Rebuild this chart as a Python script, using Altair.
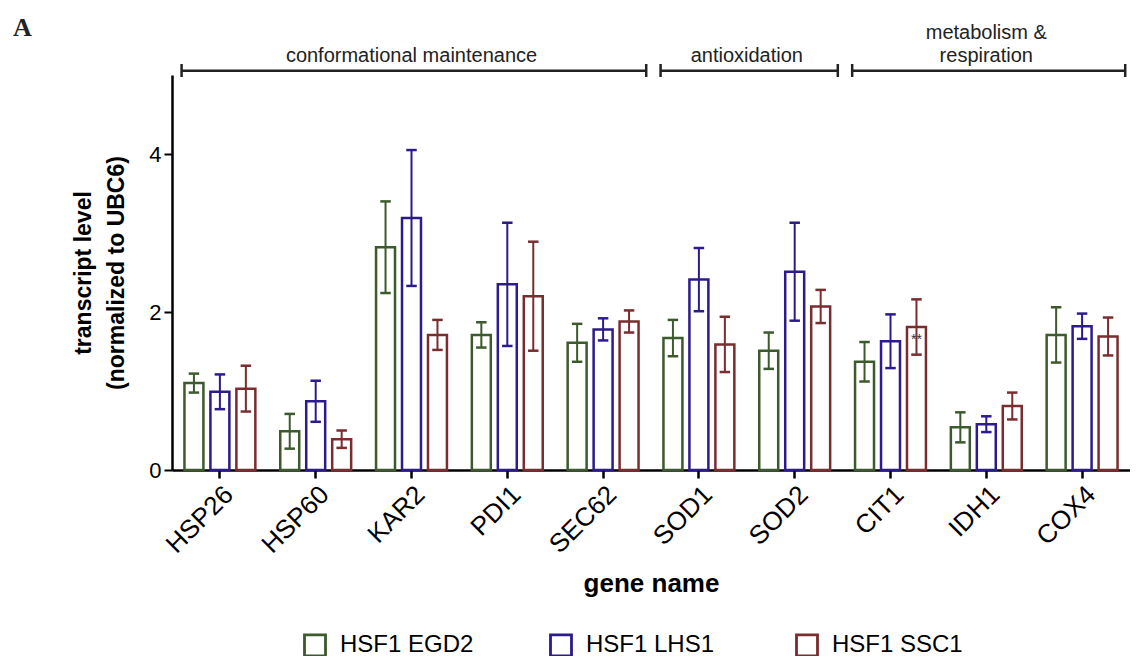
import altair as alt
import pandas as pd

genes = ["HSP26", "HSP60", "KAR2", "PDI1", "SEC62", "SOD1", "SOD2", "CIT1", "IDH1", "COX4"]
series = ["HSF1 EGD2", "HSF1 LHS1", "HSF1 SSC1"]
colors = ["#3c5a2c", "#2c1b8c", "#7a2c2e"]

egd2_mean = [1.10, 0.49, 2.82, 1.71, 1.61, 1.67, 1.51, 1.37, 0.54, 1.71]
egd2_err = [0.12, 0.22, 0.58, 0.16, 0.24, 0.23, 0.23, 0.25, 0.19, 0.35]
lhs1_mean = [0.99, 0.87, 3.19, 2.35, 1.78, 2.41, 2.51, 1.63, 0.58, 1.82]
lhs1_err = [0.22, 0.26, 0.86, 0.78, 0.14, 0.40, 0.62, 0.34, 0.10, 0.16]
ssc1_mean = [1.03, 0.39, 1.71, 2.20, 1.88, 1.59, 2.07, 1.81, 0.81, 1.69]
ssc1_err = [0.29, 0.11, 0.19, 0.69, 0.14, 0.35, 0.21, 0.35, 0.17, 0.24]

group_labels = ["conformational maintenance", "antioxidation", "metabolism &\nrespiration"]
group_first = ["HSP26", "SOD1", "CIT1"]
group_last = ["SEC62", "SOD2", "COX4"]

star_gene = ["CIT1"]
star_series = ["HSF1 SSC1"]
star_text = ["**"]

FONT = "Liberation Sans"

rows = []
for s, means, errs in zip(series, [egd2_mean, lhs1_mean, ssc1_mean], [egd2_err, lhs1_err, ssc1_err]):
    for g, m, e in zip(genes, means, errs):
        rows.append({"gene": g, "series": s, "mean": m, "lo": m - e, "hi": m + e})
df = pd.DataFrame(rows)

star_df = pd.DataFrame({"gene": star_gene, "series": star_series, "text": star_text})
star_df = star_df.merge(df[["gene", "series", "mean"]], on=["gene", "series"])

ann = pd.DataFrame({
    "label": group_labels,
    "start": [genes.index(g) + 0.1 for g in group_first],
    "end": [genes.index(g) + 0.95 for g in group_last],
})
ann["mid"] = [(genes.index(a) + genes.index(b) + 1) / 2 for a, b in zip(group_first, group_last)]
ann["top"] = [lbl.split("\n")[0] if "\n" in lbl else "" for lbl in group_labels]
ann["bottom"] = [lbl.split("\n")[-1] for lbl in group_labels]
caps = pd.concat([
    pd.DataFrame({"pos": ann["start"]}),
    pd.DataFrame({"pos": ann["end"]}),
])

YTITLE = ["transcript level", "(normalized to UBC6)"]
yaxis = alt.Axis(values=[0, 2, 4], labelFontSize=22, labelFont=FONT, labelColor="black",
                 tickSize=8, tickWidth=2, tickColor="black", domainColor="black",
                 domainWidth=2.5, grid=False, labelPadding=3, title=YTITLE,
                 titleFontSize=23, titleFont=FONT, titleFontWeight="bold",
                 titleColor="black", titleLineHeight=33, titlePadding=20)

xscale = alt.Scale(domain=genes, paddingInner=0.26, paddingOuter=0.13)
xoff = alt.XOffset("series:N", sort=series, scale=alt.Scale(domain=series, paddingInner=0.27, paddingOuter=0))
yscale = alt.Scale(domain=[0, 5], nice=False, zero=True)
stroke_scale = alt.Scale(domain=series, range=colors)

base = alt.Chart(df)

bars = base.mark_bar(filled=False, strokeWidth=2.5, strokeOpacity=1).encode(
    x=alt.X("gene:N", sort=genes, scale=xscale, title="gene name",
            axis=alt.Axis(labelAngle=-45, labelFontSize=26, labelFont=FONT, labelColor="black",
                          tickSize=8, tickWidth=2.5, tickColor="black", domainColor="black",
                          domainWidth=2.5, titleFontSize=26, titleFont=FONT, titleFontWeight="bold",
                          titleColor="black", titlePadding=13, labelPadding=3, grid=False)),
    xOffset=xoff,
    y=alt.Y("mean:Q", scale=yscale, axis=yaxis),
    stroke=alt.Stroke("series:N", sort=series, scale=stroke_scale,
                      legend=alt.Legend(orient="none", legendX=131, legendY=558, direction="horizontal",
                                        title=None, symbolType="square", symbolSize=441,
                                        symbolStrokeWidth=2.8, symbolFillColor="white",
                                        labelFontSize=24, labelFont=FONT, labelColor="black",
                                        labelOffset=13, columnPadding=70, gridAlign="all")),
)

rules = base.mark_rule(strokeWidth=2).encode(
    x=alt.X("gene:N", sort=genes, scale=xscale),
    xOffset=xoff,
    y=alt.Y("lo:Q", scale=yscale, axis=yaxis),
    y2="hi:Q",
    stroke=alt.Stroke("series:N", sort=series, scale=stroke_scale, legend=None),
)

caps_err = base.transform_fold(["lo", "hi"], as_=["end", "val"]).mark_point(
    shape="stroke", size=110, strokeWidth=2.5, filled=False, opacity=1
).encode(
    x=alt.X("gene:N", sort=genes, scale=xscale),
    xOffset=xoff,
    y=alt.Y("val:Q", scale=yscale, axis=yaxis),
    stroke=alt.Stroke("series:N", sort=series, scale=stroke_scale, legend=None),
)

stars = alt.Chart(star_df).mark_text(fontSize=14, font=FONT, color="#333333", dy=13).encode(
    x=alt.X("gene:N", sort=genes, scale=xscale),
    xOffset=xoff,
    y=alt.Y("mean:Q", scale=yscale, axis=yaxis),
    text="text:N",
)

main = alt.layer(bars, rules, caps_err, stars)

qx = alt.Scale(domain=[0, 10], nice=False, zero=False)
brackets = alt.Chart(ann).mark_rule(strokeWidth=2.5, color="#222222").encode(
    x=alt.X("start:Q", scale=qx, axis=None),
    x2="end:Q",
    y=alt.YDatum(5.054, scale=yscale, axis=yaxis),
)
bracket_caps = alt.Chart(caps).mark_rule(strokeWidth=2.5, color="#222222").encode(
    x=alt.X("pos:Q", scale=qx, axis=None),
    y=alt.YDatum(4.975, scale=yscale, axis=yaxis),
    y2=alt.Y2Datum(5.139),
)
labels_bottom = alt.Chart(ann).mark_text(fontSize=20, font=FONT, color="#222222", baseline="alphabetic").encode(
    x=alt.X("mid:Q", scale=qx, axis=None),
    y=alt.YDatum(5.165, scale=yscale, axis=yaxis),
    text="bottom:N",
)
labels_top = alt.Chart(ann).mark_text(fontSize=20, font=FONT, color="#222222", baseline="alphabetic").encode(
    x=alt.X("mid:Q", scale=qx, axis=None),
    y=alt.YDatum(5.455, scale=yscale, axis=yaxis),
    text="top:N",
)

chart = alt.layer(main, brackets, bracket_caps, labels_bottom, labels_top).resolve_scale(
    x="independent"
).properties(
    width=958,
    height=395,
    padding={"left": 164, "top": 67, "right": 0, "bottom": 186},
    autosize=alt.AutoSizeParams(type="none"),
    title=alt.TitleParams("A", anchor="start", frame="group", font="Liberation Serif", fontSize=26,
                          fontWeight="bold", color="#222222", dx=-159, dy=22),
).configure_view(stroke=None)

chart.save("out.html", embed_options={"renderer": "svg", "actions": False})
